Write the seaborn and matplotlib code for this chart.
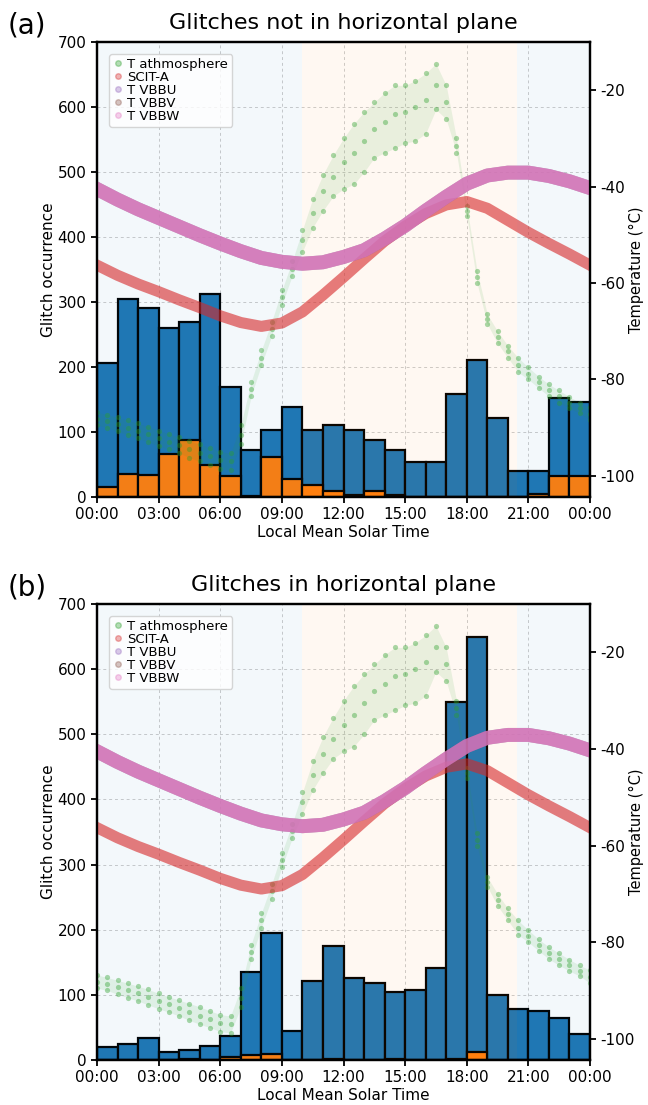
import numpy as np
import pandas as pd
import matplotlib
matplotlib.use("Agg")
import matplotlib.pyplot as plt
from matplotlib.lines import Line2D
import seaborn as sns

# hourly bins of local mean solar time (bin centres)
bin_hours = [h + 0.5 for h in range(24)]

# (a) glitches not in horizontal plane
counts_a_blue = [206, 305, 291, 260, 269, 313, 170, 72, 103, 139, 103, 111,
                 103, 88, 72, 54, 54, 159, 211, 122, 40, 40, 153, 146]
counts_a_orange = [16, 35, 34, 66, 88, 50, 33, 2, 62, 28, 18, 10,
                   3, 10, 3, 0, 0, 0, 0, 0, 0, 4, 33, 33]

# (b) glitches in horizontal plane
counts_b_blue = [20, 24, 34, 12, 16, 22, 37, 135, 195, 44, 121, 175,
                 126, 118, 105, 107, 141, 549, 650, 100, 78, 76, 64, 40]
counts_b_orange = [0, 0, 0, 0, 2, 0, 5, 7, 9, 0, 0, 1,
                   0, 0, 2, 0, 0, 2, 12, 0, 0, 0, 0, 0]

# temperatures (deg C), read hourly
temp_hours = list(range(25))
t_scit_a = [-56.3, -58.4, -60.2, -61.8, -63.5, -65.1, -66.8, -68.2, -69.0, -68.3,
            -66.0, -62.5, -58.8, -55.0, -51.3, -48.2, -45.6, -43.8, -43.1, -44.5,
            -47.0, -49.5, -51.8, -54.0, -56.3]
t_vbb = [-40.5, -42.7, -44.7, -46.5, -48.3, -50.1, -51.8, -53.4, -54.8, -55.6,
         -56.0, -55.7, -54.6, -53.2, -50.8, -48.1, -45.0, -42.1, -39.4, -37.7,
         -37.1, -37.1, -37.8, -38.9, -40.3]

# atmosphere temperature cloud, read every half hour (cold edge, middle, warm edge)
atm_hours = [0.0, 0.5, 1.0, 1.5, 2.0, 2.5, 3.0, 3.5, 4.0, 4.5, 5.0, 5.5, 6.0, 6.5,
             7.0, 7.5, 8.0, 8.5, 9.0, 9.5, 10.0, 10.5, 11.0, 11.5, 12.0, 12.5,
             13.0, 13.5, 14.0, 14.5, 15.0, 15.5, 16.0, 16.5, 17.0, 17.5, 18.0,
             18.5, 19.0, 19.5, 20.0, 20.5, 21.0, 21.5, 22.0, 22.5, 23.0, 23.5, 24.0]
t_atm_lo = [-89.5, -90.0, -90.8, -91.5, -92.2, -93.0, -93.8, -94.5, -95.3, -96.2,
            -97.0, -97.7, -98.5, -98.8, -93.5, -83.5, -77.0, -71.0, -64.5, -58.5,
            -53.5, -48.5, -45.0, -42.0, -40.5, -39.5, -37.0, -34.0, -33.0, -32.0,
            -31.0, -30.5, -29.0, -24.0, -26.0, -33.0, -46.0, -60.0, -68.5, -72.5,
            -75.5, -78.5, -80.0, -81.8, -83.5, -84.8, -86.0, -87.0, -88.5]
t_atm_mid = [-88.2, -88.6, -89.3, -90.0, -90.6, -91.4, -92.2, -92.9, -93.6, -94.4,
             -95.2, -95.9, -96.7, -97.0, -91.5, -82.0, -75.5, -69.5, -63.0, -57.0,
             -51.0, -45.5, -41.0, -38.0, -35.0, -33.0, -30.5, -28.0, -26.5, -25.0,
             -24.5, -23.5, -22.0, -19.0, -22.5, -31.5, -45.0, -58.8, -67.5, -71.2,
             -74.2, -77.0, -78.8, -80.6, -82.2, -83.5, -84.8, -85.9, -87.2]
t_atm_hi = [-86.8, -87.3, -87.9, -88.5, -89.1, -89.8, -90.6, -91.3, -92.0, -92.7,
            -93.4, -94.2, -95.0, -95.3, -89.5, -80.5, -74.0, -68.0, -61.5, -55.5,
            -49.0, -42.5, -37.5, -33.5, -30.0, -27.0, -24.5, -22.5, -20.5, -19.0,
            -19.0, -18.0, -16.5, -14.5, -19.0, -30.0, -44.0, -57.5, -66.5, -70.0,
            -73.0, -75.5, -77.5, -79.4, -81.0, -82.3, -83.6, -84.8, -85.8]

tick_hours = [0, 3, 6, 9, 12, 15, 18, 21, 24]
tick_labels = ["00:00", "03:00", "06:00", "09:00", "12:00", "15:00", "18:00", "21:00", "00:00"]

legend_names = ["T athmosphere", "SCIT-A", "T VBBU", "T VBBV", "T VBBW"]
legend_colors = ["#2ca02c", "#d62728", "#9467bd", "#8c564b", "#e377c2"]

plt.rcParams["font.family"] = ["DejaVu Sans"]
plt.rcParams["axes.unicode_minus"] = False

atm = pd.DataFrame({
    "hour": atm_hours * 3,
    "temp": t_atm_lo + t_atm_mid + t_atm_hi,
})


def draw_panel(ax, blue, orange, title, tag, tag_y):
    sns.histplot(x=bin_hours, weights=blue, bins=24, binrange=(0, 24), color="#1f77b4",
                 edgecolor="black", linewidth=1.6, alpha=1, ax=ax, zorder=2)
    sns.histplot(x=bin_hours, weights=orange, bins=24, binrange=(0, 24), color="#ff7f0e",
                 edgecolor="black", linewidth=1.6, alpha=1, ax=ax, zorder=2)

    # night / day shading
    ax.axvspan(0, 10.0, color="#1f77b4", alpha=0.05, lw=0, zorder=3)
    ax.axvspan(10.0, 20.45, color="#ff7f0e", alpha=0.05, lw=0, zorder=3)
    ax.axvspan(20.45, 24, color="#1f77b4", alpha=0.05, lw=0, zorder=3)

    ax.set_xlim(0, 24)
    ax.set_ylim(0, 700)
    ax.set_xticks(tick_hours)
    ax.set_xticklabels(tick_labels)
    ax.grid(True, ls=(0, (3, 3)), color="0.8", lw=0.7)
    ax.set_axisbelow(True)
    ax.set_ylabel("Glitch occurrence", fontsize=11, labelpad=1)
    ax.set_xlabel("Local Mean Solar Time", fontsize=11, labelpad=2)
    ax.set_title(title, fontsize=16, pad=9)
    ax.tick_params(labelsize=11, width=1.3, length=4)
    for s in ax.spines.values():
        s.set_linewidth(1.6)

    ax2 = ax.twinx()
    sns.lineplot(x=temp_hours, y=t_scit_a, color="#d62728", lw=8, alpha=0.6, ax=ax2)
    sns.lineplot(x=temp_hours, y=t_vbb, color="#9467bd", lw=10, alpha=0.5, ax=ax2)
    sns.lineplot(x=temp_hours, y=t_vbb, color="#8c564b", lw=10, alpha=0.3, ax=ax2)
    sns.lineplot(x=temp_hours, y=t_vbb, color="#e377c2", lw=10, alpha=0.7, ax=ax2)
    ax2.fill_between(atm_hours, t_atm_lo, t_atm_hi, color="#2ca02c", alpha=0.1, lw=0)
    sns.scatterplot(data=atm, x="hour", y="temp", color="#2ca02c", s=14, alpha=0.4,
                    linewidth=0, ax=ax2, legend=False)
    ax2.set_ylim(-104.4, -10)
    ax2.set_yticks([-100, -80, -60, -40, -20])
    ax2.set_ylabel("Temperature (°C)", fontsize=10.5)
    ax2.yaxis.set_label_coords(1.08, 0.5)
    ax2.set_xlabel("")
    ax2.tick_params(labelsize=11, width=1.3, length=4)
    for s in ax2.spines.values():
        s.set_linewidth(1.6)

    handles = [Line2D([0], [0], marker="o", ls="", color=c, alpha=0.35, markersize=4)
               for c in legend_colors]
    ax2.legend(handles, legend_names, loc="upper left", fontsize=9.5, handlelength=0.8,
               handletextpad=0.3, labelspacing=0.0, borderpad=0.3, borderaxespad=0.9,
               framealpha=0.8, edgecolor="0.8")

    ax.figure.text(0.012, tag_y, tag, fontsize=20, ha="left", va="center")


fig = plt.figure(figsize=(6.48, 11.05), dpi=100)
ax_a = fig.add_axes([0.1497, 0.5502, 0.7608, 0.4118])
ax_b = fig.add_axes([0.1497, 0.0407, 0.7608, 0.4127])

draw_panel(ax_a, counts_a_blue, counts_a_orange, "Glitches not in horizontal plane", "(a)", 0.9765)
draw_panel(ax_b, counts_b_blue, counts_b_orange, "Glitches in horizontal plane", "(b)", 0.4679)

fig.savefig("out.png", dpi=100)
